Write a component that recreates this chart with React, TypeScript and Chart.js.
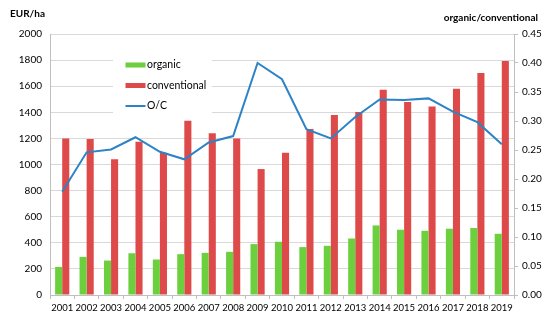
import React, { useEffect, useRef } from "react";
import { Chart, registerables } from "chart.js";

Chart.register(...registerables);

const years = ["2001","2002","2003","2004","2005","2006","2007","2008","2009","2010","2011","2012","2013","2014","2015","2016","2017","2018","2019"];
const organic = [215, 292, 264, 320, 272, 313, 323, 331, 390, 408, 367, 377, 433, 533, 500, 492, 508, 513, 469];
const conventional = [1200, 1195, 1040, 1175, 1090, 1335, 1240, 1200, 965, 1090, 1272, 1380, 1402, 1573, 1478, 1444, 1580, 1701, 1794];
const ratio = [0.178, 0.246, 0.251, 0.272, 0.247, 0.234, 0.263, 0.274, 0.400, 0.372, 0.286, 0.270, 0.307, 0.337, 0.336, 0.339, 0.316, 0.298, 0.260];

const leftTitle = "EUR/ha";
const rightTitle = "organic/conventional";
const legendLabels = ["organic", "conventional", "O/C"];

const GREEN = "#6BCF3E";
const RED = "#DE4A4A";
const BLUE = "#2C83C6";
const FONT = "Lato, 'Open Sans', sans-serif";
const FS = 10;

const overlayPlugin = {
  id: "overlay",
  beforeDatasetsDraw(chart: any) {
    const ctx = chart.ctx;
    ctx.save();
    const bx = 113, by = 50, bw = 99, bh = 68;
    ctx.fillStyle = "#ffffff";
    ctx.fillRect(bx, by, bw, bh);
    ctx.font = `${FS + 0.5}px ${FONT}`;
    ctx.textBaseline = "middle";
    ctx.textAlign = "left";
    const rows = [65, 85.5, 106];
    ctx.fillStyle = GREEN;
    ctx.fillRect(125.5, 62.5, 20, 5);
    ctx.fillStyle = RED;
    ctx.fillRect(125.5, 83, 20, 5);
    ctx.strokeStyle = BLUE;
    ctx.lineWidth = 2;
    ctx.beginPath();
    ctx.moveTo(125.5, 106);
    ctx.lineTo(145.5, 106);
    ctx.stroke();
    ctx.fillStyle = "#000000";
    legendLabels.forEach((t, i) => ctx.fillText(t, 147, rows[i]));
    ctx.font = `bold 10px ${FONT}`;
    ctx.fillText(leftTitle, 10, 14);
    ctx.textAlign = "right";
    ctx.fillText(rightTitle, 538, 18);
    ctx.restore();
  },
};

export default function App() {
  const ref = useRef<HTMLCanvasElement | null>(null);
  useEffect(() => {
    document.body.style.margin = "0";
    const chart = new Chart(ref.current as HTMLCanvasElement, {
      type: "bar",
      data: {
        labels: years,
        datasets: [
          {
            type: "line",
            label: "O/C",
            data: ratio,
            yAxisID: "y1",
            borderColor: BLUE,
            borderWidth: 2,
            pointRadius: 0,
            tension: 0,
            fill: false,
            order: 0,
          } as any,
          {
            label: "organic",
            data: organic,
            backgroundColor: GREEN,
            yAxisID: "y",
            categoryPercentage: 0.58,
            barPercentage: 1,
            order: 1,
          },
          {
            label: "conventional",
            data: conventional,
            backgroundColor: RED,
            yAxisID: "y",
            categoryPercentage: 0.58,
            barPercentage: 1,
            order: 1,
          },
        ],
      },
      options: {
        animation: false,
        responsive: false,
        maintainAspectRatio: false,
        layout: { padding: { top: 34, left: 0, right: 0, bottom: 0 } },
        plugins: { legend: { display: false }, tooltip: { enabled: false } },
        scales: {
          x: {
            grid: { drawOnChartArea: false, drawTicks: true, tickLength: 4, offset: true, color: "#BFBFBF" },
            border: { color: "#BFBFBF" },
            ticks: { color: "#000000", font: { family: FONT, size: 9.5 }, padding: 3, maxRotation: 0, autoSkip: false },
            afterFit: (s: any) => { s.height = 26; },
          },
          y: {
            position: "left",
            min: 0,
            max: 2000,
            grid: { color: "#D9D9D9", drawTicks: false },
            border: { color: "#BFBFBF" },
            ticks: {
              stepSize: 200,
              color: "#000000",
              font: { family: FONT, size: FS },
              padding: 8,
              callback: (v: any) => String(v),
            },
            afterFit: (s: any) => { s.width = 50; },
          },
          y1: {
            position: "right",
            min: 0,
            max: 0.45,
            grid: { drawOnChartArea: false, drawTicks: true, tickLength: 4, color: "#BFBFBF" },
            border: { color: "#BFBFBF" },
            ticks: {
              stepSize: 0.05,
              color: "#000000",
              font: { family: FONT, size: FS },
              padding: 4,
              callback: (v: any) => Number(v).toFixed(2),
            },
            afterFit: (s: any) => { s.width = 36; },
          },
        },
      },
      plugins: [overlayPlugin],
    });
    return () => chart.destroy();
  }, []);
  return (
    <div style={{ width: 550, height: 321 }}>
      <canvas ref={ref} width={550} height={321} style={{ display: "block" }} />
    </div>
  );
}
